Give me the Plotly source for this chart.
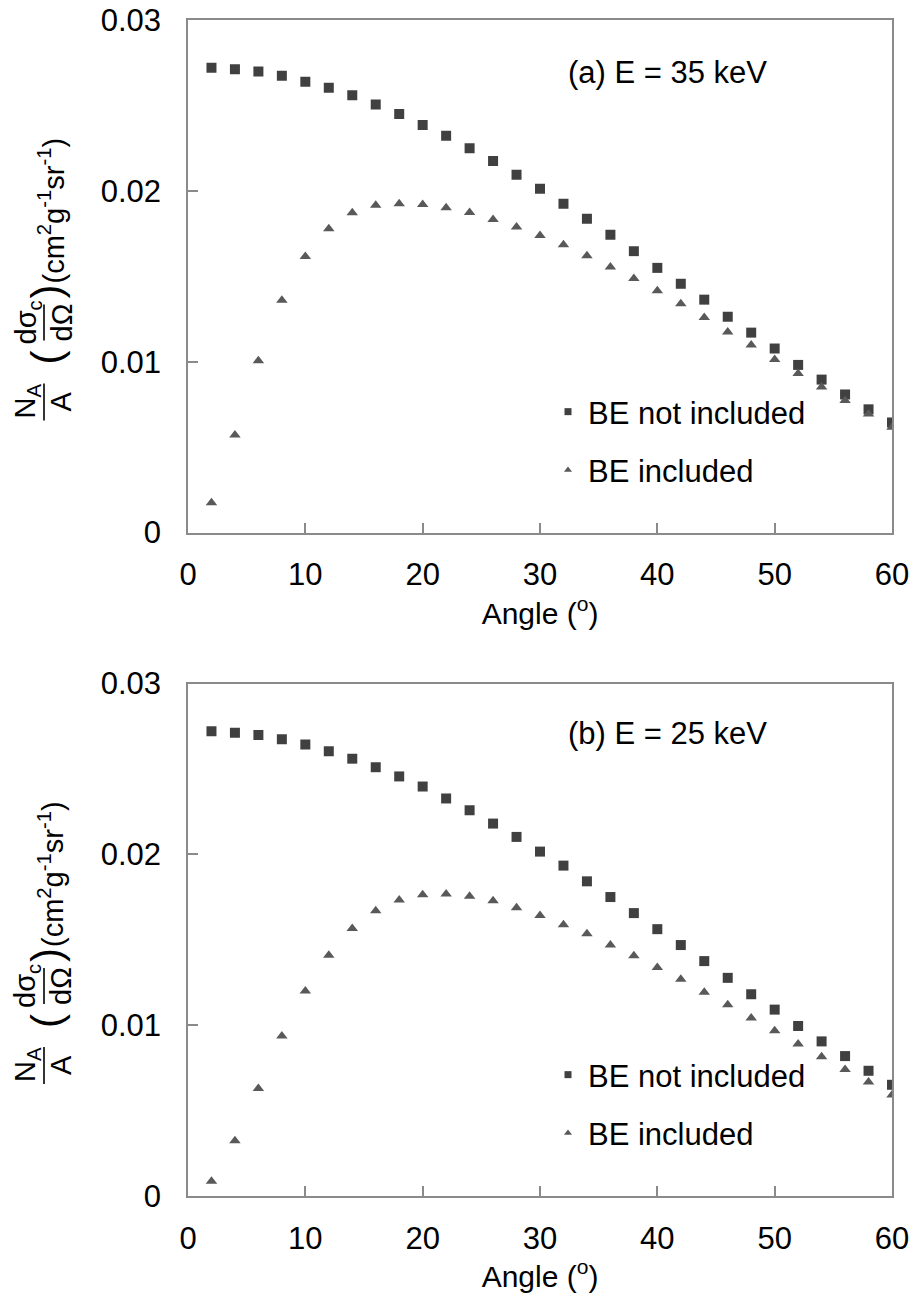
import plotly.graph_objects as go
from plotly.subplots import make_subplots

angles = list(range(2, 61, 2))

# (a) E = 35 keV
a_not_included = [0.02721, 0.02712, 0.02698, 0.02673, 0.02639, 0.02604, 0.02560, 0.02505, 0.02450, 0.02386,
                  0.02323, 0.02250, 0.02175, 0.02094, 0.02012, 0.01924, 0.01836, 0.01743, 0.01647, 0.01549,
                  0.01456, 0.01363, 0.01263, 0.01170, 0.01077, 0.00981, 0.00895, 0.00808, 0.00721, 0.00644]
a_included = [0.00174, 0.00571, 0.01006, 0.01359, 0.01616, 0.01778, 0.01871, 0.01916, 0.01924, 0.01920,
              0.01901, 0.01873, 0.01832, 0.01788, 0.01739, 0.01684, 0.01620, 0.01554, 0.01487, 0.01415,
              0.01339, 0.01259, 0.01174, 0.01098, 0.01012, 0.00930, 0.00852, 0.00772, 0.00694, 0.00616]

# (b) E = 25 keV
b_not_included = [0.02721, 0.02712, 0.02698, 0.02673, 0.02643, 0.02604, 0.02560, 0.02510, 0.02456, 0.02397,
                  0.02327, 0.02258, 0.02180, 0.02102, 0.02016, 0.01934, 0.01842, 0.01750, 0.01656, 0.01562,
                  0.01469, 0.01375, 0.01277, 0.01181, 0.01091, 0.00995, 0.00905, 0.00819, 0.00733, 0.00651]
b_included = [0.00086, 0.00323, 0.00630, 0.00937, 0.01200, 0.01410, 0.01566, 0.01670, 0.01733, 0.01764,
              0.01768, 0.01754, 0.01728, 0.01687, 0.01642, 0.01588, 0.01535, 0.01470, 0.01406, 0.01337,
              0.01269, 0.01193, 0.01120, 0.01042, 0.00968, 0.00890, 0.00815, 0.00741, 0.00667, 0.00591]

panel_labels = ["(a) E = 35 keV", "(b) E = 25 keV"]
series_names = ["BE not included", "BE included"]
y_tickvals = [0, 0.01, 0.02, 0.03]
y_ticktext = ["0", "0.01", "0.02", "0.03"]

FONT = "Liberation Sans, Arial, sans-serif"
SQ_COLOR = "#404040"
TR_COLOR = "#595959"
AX_COLOR = "#8a8a8a"

W, H = 912, 1293
L, R, T, B = 188, 20, 20, 97
PW, PH = W - L - R, H - T - B


def px(xp):
    return (xp - L) / PW


def py(yp):
    return (H - B - yp) / PH


fig = make_subplots(rows=2, cols=1, vertical_spacing=(684 - 533) / PH)

panels = [(a_not_included, a_included), (b_not_included, b_included)]
legends = ["legend", "legend2"]
for i, (sq, tr) in enumerate(panels):
    row = i + 1
    fig.add_trace(go.Scatter(x=angles, y=sq, mode="markers", showlegend=False, hoverinfo="skip",
                             marker=dict(symbol="square", size=10, color=SQ_COLOR)), row=row, col=1)
    fig.add_trace(go.Scatter(x=angles, y=tr, mode="markers", showlegend=False, hoverinfo="skip",
                             marker=dict(symbol="triangle-up", size=10, color=TR_COLOR)), row=row, col=1)
    # legend entries
    fig.add_trace(go.Scatter(x=[None], y=[None], mode="markers", name=series_names[0],
                             legend=legends[i], legendgroup=f"g{i}a",
                             marker=dict(symbol="square", size=7, color=SQ_COLOR)), row=row, col=1)
    fig.add_trace(go.Scatter(x=[None], y=[None], mode="markers", name=series_names[1],
                             legend=legends[i], legendgroup=f"g{i}b",
                             marker=dict(symbol="triangle-up", size=7, color=TR_COLOR)), row=row, col=1)

axis_common = dict(showline=True, linecolor=AX_COLOR, linewidth=1.5, mirror=True,
                   ticks="inside", ticklen=10, tickcolor=AX_COLOR, tickwidth=1.5,
                   showgrid=False, zeroline=False, automargin=False,
                   tickfont=dict(family=FONT, size=31, color="black"))

for row in (1, 2):
    fig.update_xaxes(range=[0, 60], dtick=10, tick0=0, ticklabelstandoff=14,
                     title=dict(text="Angle (<sup>o</sup>)", font=dict(family=FONT, size=30, color="black"),
                                standoff=4),
                     row=row, col=1, **axis_common)
    fig.update_yaxes(range=[0, 0.03], tickvals=y_tickvals, ticktext=y_ticktext, ticklabelstandoff=19,
                     row=row, col=1, **axis_common)

annotations = []
shapes = []
centers = [(20 + 533) / 2, (684 + 1196) / 2]
label_y = [73, 733]
for i, cy in enumerate(centers):
    annotations.append(dict(text=panel_labels[i], x=px(667), y=py(label_y[i]), xref="paper", yref="paper",
                            xanchor="center", yanchor="middle",
                            showarrow=False, font=dict(family=FONT, size=31, color="black")))
    fs = 29

    def rot(text, xp, yp, size=fs):
        annotations.append(dict(text=text, x=px(xp), y=py(yp), xref="paper", yref="paper",
                                showarrow=False, textangle=-90, xanchor="center", yanchor="middle",
                                font=dict(family=FONT, size=size, color="black")))

    rot("N<sub>A</sub>", 27, cy + 125)
    rot("A", 61, cy + 125)
    rot("(", 46, cy + 81, 42)
    rot("dσ<sub>c</sub>", 27, cy + 46)
    rot("dΩ", 61, cy + 46)
    rot(")", 46, cy + 15, 42)
    rot("(cm<sup>2</sup>g<sup>-1</sup>sr<sup>-1</sup>)", 51, cy - 66)
    for (y0, y1) in [(cy + 107, cy + 144), (cy + 28, cy + 64)]:
        shapes.append(dict(type="line", xref="paper", yref="paper", x0=px(44), x1=px(44),
                           y0=py(y0), y1=py(y1), line=dict(color="black", width=1.6)))

legend_style = dict(font=dict(family=FONT, size=31, color="black"), bgcolor="rgba(0,0,0,0)",
                    borderwidth=0, traceorder="grouped", tracegroupgap=15,
                    xanchor="left", yanchor="top", itemwidth=30)

fig.update_layout(
    width=W, height=H,
    margin=dict(l=L, r=R, t=T, b=B, autoexpand=False),
    paper_bgcolor="white", plot_bgcolor="white",
    font=dict(family=FONT, size=30, color="black"),
    annotations=annotations, shapes=shapes,
    legend=dict(x=px(548), y=py(385), **legend_style),
    legend2=dict(x=px(548), y=py(1048), **legend_style),
)

fig.write_html("out.html", config={"displayModeBar": False},
               post_script="document.body.style.margin='0px';")
